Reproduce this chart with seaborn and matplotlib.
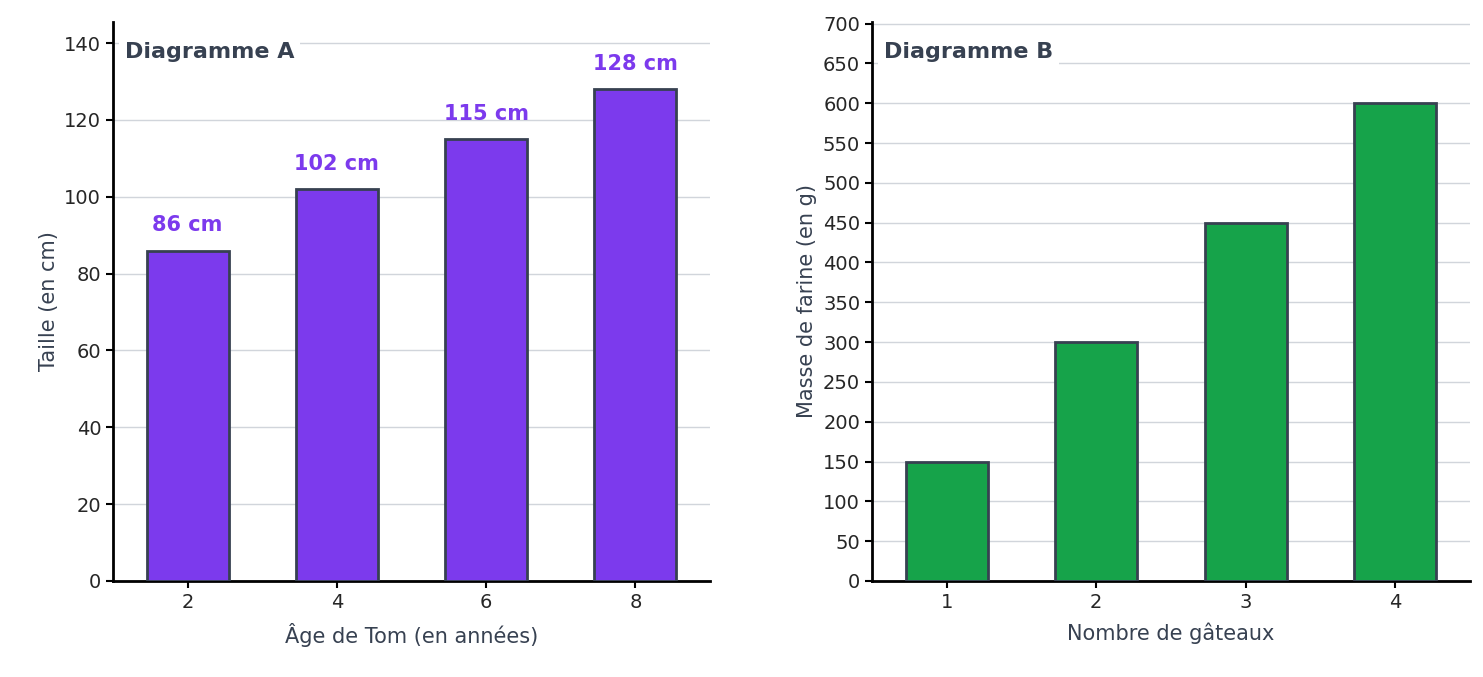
import matplotlib
matplotlib.use("Agg")
import matplotlib.pyplot as plt
import seaborn as sns
import pandas as pd

ages = ["2", "4", "6", "8"]
tailles = [86, 102, 115, 128]
gateaux = ["1", "2", "3", "4"]
farine = [150, 300, 450, 600]

sns.set_style("white")
plt.rcParams['font.family'] = ['DejaVu Sans']
fig = plt.figure(figsize=(14.83, 6.77), dpi=100)
axA = fig.add_axes([113/1483, 1-581/677, 597/1483, 559/677])
axB = fig.add_axes([872/1483, 1-581/677, 598/1483, 559/677])

dark = "#374151"
for ax, cats, vals, col, xl, yl in [
    (axA, ages, tailles, "#7c3aed", "Âge de Tom (en années)", "Taille (en cm)"),
    (axB, gateaux, farine, "#16a34a", "Nombre de gâteaux", "Masse de farine (en g)")]:
    df = pd.DataFrame({"x": cats, "y": vals})
    sns.barplot(data=df, x="x", y="y", ax=ax, color=col, width=0.55,
                edgecolor=dark, linewidth=2, saturation=1, zorder=3)
    ax.grid(axis="y", color="#d1d5db", linewidth=1, zorder=0)
    ax.set_axisbelow(True)
    ax.set_xlabel(xl, fontsize=15, color=dark, labelpad=8)
    ax.set_ylabel(yl, fontsize=15, color=dark)
    ax.tick_params(labelsize=14, length=5, width=1.5, color="black", left=True, bottom=True)
    for s in ["top", "right"]:
        ax.spines[s].set_visible(False)
    for s in ["left", "bottom"]:
        ax.spines[s].set_linewidth(2)
        ax.spines[s].set_color("black")

axA.set_ylim(0, 145.5)
axA.set_yticks(range(0, 141, 20))
axB.set_ylim(0, 702)
axB.set_yticks(range(0, 701, 50))
for i, v in enumerate(tailles):
    axA.text(i, v + 4, f"{v} cm", ha="center", va="bottom", fontsize=15,
             fontweight="bold", color="#7c3aed")
for ax, t in [(axA, "Diagramme A"), (axB, "Diagramme B")]:
    ax.text(0.02, 0.965, t, transform=ax.transAxes, ha="left", va="top",
            fontsize=16, fontweight="bold", color=dark,
            bbox=dict(facecolor="white", edgecolor="none", pad=4), zorder=5)
fig.savefig("out.png", dpi=100)
